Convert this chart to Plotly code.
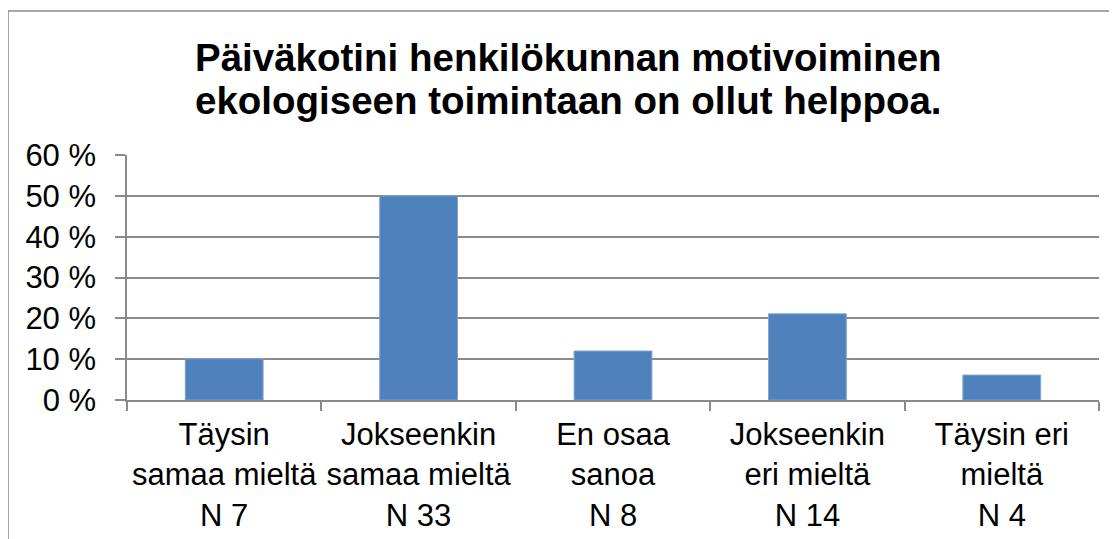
import plotly.graph_objects as go

categories = [
    "Täysin<br>samaa mieltä<br>N 7",
    "Jokseenkin<br>samaa mieltä<br>N 33",
    "En osaa<br>sanoa<br>N 8",
    "Jokseenkin<br>eri mieltä<br>N 14",
    "Täysin eri<br>mieltä<br>N 4",
]
values = [10.1, 50.0, 12.0, 21.1, 6.1]
y_ticks = [0, 10, 20, 30, 40, 50, 60]
y_tick_labels = ["0 %", "10 %", "20 %", "30 %", "40 %", "50 %", "60 %"]
title_lines = [
    "Päiväkotini henkilökunnan motivoiminen",
    "ekologiseen toimintaan on ollut helppoa.",
]

grey = "#8a8a8a"
font_family = "Liberation Sans, Arial, sans-serif"

# The page places the figure 8px from top/left; compensate so that the
# plot area spans x 127..1099 and y 155..400 in the screenshot.
OFF = 8
PLOT_TOP, PLOT_BOTTOM = 155, 400
PLOT_LEFT, PLOT_RIGHT = 127, 1099
W, H = 1117, 539


def py_to_paper(py):
    return (PLOT_BOTTOM - py) / float(PLOT_BOTTOM - PLOT_TOP)


def px_to_paper(px):
    return (px - PLOT_LEFT) / float(PLOT_RIGHT - PLOT_LEFT)


fig = go.Figure(
    go.Bar(
        x=categories,
        y=values,
        marker=dict(color="#4F81BD", line=dict(color="#7FA3D1", width=1)),
        hoverinfo="skip",
    )
)

annotations = []
for line, py in zip(title_lines, [57, 100]):
    annotations.append(
        dict(
            text="<b>" + line + "</b>",
            xref="paper",
            yref="paper",
            x=px_to_paper(568),
            y=py_to_paper(py),
            xanchor="center",
            yanchor="middle",
            showarrow=False,
            font=dict(family=font_family, size=38.5, color="black"),
        )
    )

fig.update_layout(
    width=W,
    height=H,
    margin=dict(
        l=PLOT_LEFT - OFF,
        r=W - (PLOT_RIGHT - OFF),
        t=PLOT_TOP - OFF,
        b=H - (PLOT_BOTTOM - OFF),
        autoexpand=False,
    ),
    paper_bgcolor="white",
    plot_bgcolor="white",
    bargap=0.6,
    showlegend=False,
    font=dict(family=font_family, size=31, color="black"),
    annotations=annotations,
    shapes=[
        dict(
            type="rect",
            xref="paper",
            yref="paper",
            x0=px_to_paper(8),
            x1=1.2,
            y0=-1.0,
            y1=py_to_paper(11),
            line=dict(color=grey, width=1.5),
            fillcolor="rgba(0,0,0,0)",
            layer="below",
        )
    ],
)

fig.update_xaxes(
    type="category",
    automargin=False,
    tickangle=0,
    showline=True,
    linecolor=grey,
    linewidth=1.5,
    ticks="outside",
    tickson="boundaries",
    ticklen=9,
    tickcolor=grey,
    tickwidth=1.5,
    showgrid=False,
    tickfont=dict(family=font_family, size=31, color="black"),
    ticklabelstandoff=6,
)

fig.update_yaxes(
    automargin=False,
    range=[0, 60],
    tickvals=y_ticks,
    ticktext=y_tick_labels,
    showline=True,
    linecolor=grey,
    linewidth=1.5,
    ticks="outside",
    ticklen=10,
    tickcolor=grey,
    tickwidth=1.5,
    showgrid=True,
    gridcolor=grey,
    gridwidth=1.5,
    zeroline=False,
    tickfont=dict(family=font_family, size=31, color="black"),
    ticklabelstandoff=13,
)

fig.write_html("out.html")
